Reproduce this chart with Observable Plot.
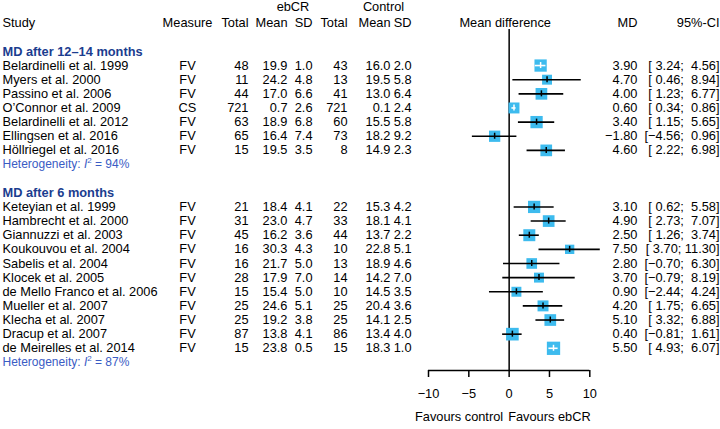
<!DOCTYPE html>
<html>
<head>
<meta charset="utf-8">
<script src="https://cdn.jsdelivr.net/npm/d3@7"></script>
<script src="https://cdn.jsdelivr.net/npm/@observablehq/plot@0.6"></script>
<style>
  html, body { margin: 0; padding: 0; background: #fff; }
  #chart svg { display: block; }
</style>
</head>
<body>
<div id="chart"></div>
<script>
// ---------------- data ----------------
const groupLabels = ["MD after 12–14 months", "MD after 6 months"];
const groupI2 = [94, 87];
const studies = [
  "Belardinelli et al. 1999", "Myers et al. 2000", "Passino et al. 2006", "O’Connor et al. 2009",
  "Belardinelli et al. 2012", "Ellingsen et al. 2016", "Höllriegel et al. 2016",
  "Keteyian et al. 1999", "Hambrecht et al. 2000", "Giannuzzi et al. 2003", "Koukouvou et al. 2004",
  "Sabelis et al. 2004", "Klocek et al. 2005", "de Mello Franco et al. 2006", "Mueller et al. 2007",
  "Klecha et al. 2007", "Dracup et al. 2007", "de Meirelles et al. 2014"
];
const group   = [0,0,0,0,0,0,0, 1,1,1,1,1,1,1,1,1,1,1];
const measure = ["FV","FV","FV","CS","FV","FV","FV","FV","FV","FV","FV","FV","FV","FV","FV","FV","FV","FV"];
const eTotal = [48, 11, 44, 721, 63, 65, 15, 21, 31, 45, 16, 16, 28, 15, 25, 25, 87, 15];
const eMean  = [19.9, 24.2, 17.0, 0.7, 18.9, 16.4, 19.5, 18.4, 23.0, 16.2, 30.3, 21.7, 17.9, 15.4, 24.6, 19.2, 13.8, 23.8];
const eSD    = [1.0, 4.8, 6.6, 2.6, 6.8, 7.4, 3.5, 4.1, 4.7, 3.6, 4.3, 5.0, 7.0, 5.0, 5.1, 3.8, 4.1, 0.5];
const cTotal = [43, 13, 41, 721, 60, 73, 8, 22, 33, 44, 10, 13, 14, 10, 25, 25, 86, 15];
const cMean  = [16.0, 19.5, 13.0, 0.1, 15.5, 18.2, 14.9, 15.3, 18.1, 13.7, 22.8, 18.9, 14.2, 14.5, 20.4, 14.1, 13.4, 18.3];
const cSD    = [2.0, 5.8, 6.4, 2.4, 5.8, 9.2, 2.3, 4.2, 4.1, 2.2, 5.1, 4.6, 7.0, 3.5, 3.6, 2.5, 4.0, 1.0];
const md     = [3.90, 4.70, 4.00, 0.60, 3.40, -1.80, 4.60, 3.10, 4.90, 2.50, 7.50, 2.80, 3.70, 0.90, 4.20, 5.10, 0.40, 5.50];
const lower  = [3.24, 0.46, 1.23, 0.34, 1.15, -4.56, 2.22, 0.62, 2.73, 1.26, 3.70, -0.70, -0.79, -2.44, 1.75, 3.32, -0.81, 4.93];
const upper  = [4.56, 8.94, 6.77, 0.86, 5.65, 0.96, 6.98, 5.58, 7.07, 3.74, 11.30, 6.30, 8.19, 4.24, 6.65, 6.88, 1.61, 6.07];
const weight = [6.4, 4.2, 5.8, 5.1, 6.4, 5.4, 5.8, 6.4, 5.8, 6.1, 3.7, 4.8, 4.2, 4.2, 5.1, 5.8, 6.8, 7.5];
const xTicks = [-10, -5, 0, 5, 10];
const favours = ["Favours control", "Favours ebCR"];

// ---------------- layout / style ----------------
const W = 720, H = 429;
const font = "'Liberation Sans', Arial, Helvetica, sans-serif";
const fs = 12.8;
const headColor = "#1b3d8f";
const hetColor = "#3a5cc4";
const sqColor = "#3dbbee";
const xDomain = [-10, 10], xRange = [428, 589.3];
const yDomain = [-1.55, 22.57], yRange = [29, 370];
const rMax = 7.5;
const colX = {study: 2, measure: 187, eTotal: 248, eMean: 287, eSD: 312, cTotal: 347, cMean: 390, cSD: 411, md: 637, ci: 719};
const colAnchor = {study: "start", measure: "middle"};

const minus = s => s.replace(/-/g, "−");
const f1 = v => minus(v.toFixed(1));
const f2 = v => minus(v.toFixed(2));
const nb = "\u00a0";
const lowW = d3.max(lower, v => f2(v).length);
const upW = d3.max(upper, v => f2(v).length);
const maxW = d3.max(weight);
const pxPerUnit = (xRange[1] - xRange[0]) / (xDomain[1] - xDomain[0]);

// ---------------- rows ----------------
const studyData = [], headingData = [], hetData = [];
let r = 0;
groupLabels.forEach((g, gi) => {
  headingData.push({row: r++, text: g});
  studies.forEach((s, i) => {
    if (group[i] !== gi) return;
    const side = Math.sqrt(weight[i] / maxW) * rMax * Math.sqrt(Math.PI);
    studyData.push({
      row: r++, study: s, measure: measure[i],
      eTotal: String(eTotal[i]), eMean: f1(eMean[i]), eSD: f1(eSD[i]),
      cTotal: String(cTotal[i]), cMean: f1(cMean[i]), cSD: f1(cSD[i]),
      mdText: f2(md[i]),
      ci: "[" + f2(lower[i]).padStart(lowW, nb) + ";" + nb + f2(upper[i]).padStart(upW, nb) + "]",
      md: md[i], lower: lower[i], upper: upper[i], weight: weight[i],
      inside: (upper[i] - lower[i]) * pxPerUnit < side
    });
  });
  hetData.push({row: r++, text: `Heterogeneity: I² = ${groupI2[gi]}%`});
  r++; // blank row
});

const headerRow = -2, superRow = -3.12;
const headers = [
  {col: "study", text: "Study"}, {col: "measure", text: "Measure"},
  {col: "eTotal", text: "Total"}, {col: "eMean", text: "Mean"}, {col: "eSD", text: "SD"},
  {col: "cTotal", text: "Total"}, {col: "cMean", text: "Mean"}, {col: "cSD", text: "SD"},
  {col: "md", text: "MD"}, {col: "ci", text: "95%-CI"}
];
const superHeaders = [{text: "ebCR", x: 292.5}, {text: "Control", x: 383}];

const colText = (col, text) => Plot.text(studyData, {
  y: "row", text, frameAnchor: "left", dx: colX[col],
  textAnchor: colAnchor[col] || "end", fontSize: fs, fill: "black"
});

const marks = [
  // column headers
  ...headers.map(h => Plot.text([h], {
    y: () => headerRow, text: "text", frameAnchor: "left", dx: colX[h.col],
    textAnchor: colAnchor[h.col] || "end", fontSize: fs, fill: "black"
  })),
  ...superHeaders.map(h => Plot.text([h], {
    y: () => superRow, text: "text", frameAnchor: "left", dx: h.x,
    textAnchor: "middle", fontSize: fs, fill: "black"
  })),
  Plot.text(["Mean difference"], {x: 0, y: () => headerRow, text: d => d, dx: -4, textAnchor: "middle", fontSize: fs, fill: "black"}),
  // subgroup headings and heterogeneity
  Plot.text(headingData, {y: "row", text: "text", frameAnchor: "left", dx: 2, textAnchor: "start", fontSize: fs, fontWeight: "bold", fill: headColor}),
  Plot.text(hetData, {y: "row", text: "text", frameAnchor: "left", dx: 2, textAnchor: "start", fontSize: 12, fill: hetColor}),
  // table columns
  colText("study", "study"),
  colText("measure", "measure"),
  colText("eTotal", "eTotal"),
  colText("eMean", "eMean"),
  colText("eSD", "eSD"),
  colText("cTotal", "cTotal"),
  colText("cMean", "cMean"),
  colText("cSD", "cSD"),
  colText("md", "mdText"),
  colText("ci", "ci"),
  // zero line
  Plot.ruleX([0], {stroke: "black", strokeWidth: 1.5}),
  // squares
  Plot.dot(studyData, {x: "md", y: "row", r: "weight", symbol: "square", fill: sqColor, stroke: "none"}),
  // confidence intervals
  Plot.ruleY(studyData.filter(d => !d.inside), {y: "row", x1: "lower", x2: "upper", stroke: "black", strokeWidth: 1.6}),
  Plot.ruleY(studyData.filter(d => d.inside), {y: "row", x1: "lower", x2: "upper", stroke: "white", strokeWidth: 1.6}),
  Plot.ruleX(studyData.filter(d => !d.inside), {x: "md", y1: "row", y2: "row", insetTop: -3, insetBottom: -3, stroke: "black", strokeWidth: 1.5}),
  Plot.ruleX(studyData.filter(d => d.inside), {x: "md", y1: "row", y2: "row", insetTop: -3, insetBottom: -3, stroke: "white", strokeWidth: 1.5}),
  // x axis
  Plot.ruleY([yDomain[1]], {x1: d3.min(xTicks), x2: d3.max(xTicks), stroke: "black", strokeWidth: 1.5}),
  Plot.axisX({ticks: xTicks, anchor: "bottom", tickSize: 7, tickPadding: 11, strokeWidth: 1.5,
    tickFormat: d => minus(String(d)), fontSize: fs, label: null, fill: "black", stroke: "black"}),
  Plot.text([favours[0]], {x: 0, frameAnchor: "bottom", dy: 50, dx: -6, text: d => d, textAnchor: "end", fontSize: fs, fill: "black"}),
  Plot.text([favours[1]], {x: 0, frameAnchor: "bottom", dy: 50, dx: -1, text: d => d, textAnchor: "start", fontSize: fs, fill: "black"})
];

const svg = Plot.plot({
  width: W, height: H,
  marginTop: yRange[0], marginBottom: H - yRange[1], marginLeft: 0, marginRight: 0,
  style: {fontFamily: font, fontSize: fs + "px", color: "black", background: "white", overflow: "visible"},
  x: {domain: xDomain, range: xRange, label: null},
  y: {domain: yDomain, range: yRange, axis: null},
  r: {type: "sqrt", domain: [0, maxW], range: [0, rMax]},
  marks
});

// italic I with superscript 2 in heterogeneity labels
svg.querySelectorAll("text").forEach(t => {
  const m = /^(Heterogeneity: )I²( = \d+%)$/.exec(t.textContent);
  if (!m) return;
  const NS = "http://www.w3.org/2000/svg";
  while (t.firstChild) t.removeChild(t.firstChild);
  const add = (txt, attrs) => {
    const s = document.createElementNS(NS, "tspan");
    for (const k in attrs) s.setAttribute(k, attrs[k]);
    s.textContent = txt;
    t.appendChild(s);
  };
  add(m[1], {});
  add("I", {"font-style": "italic"});
  add("2", {"font-size": "8", dy: "-5"});
  add(m[2], {dy: "5"});
});

document.getElementById("chart").appendChild(svg);
</script>
</body>
</html>
